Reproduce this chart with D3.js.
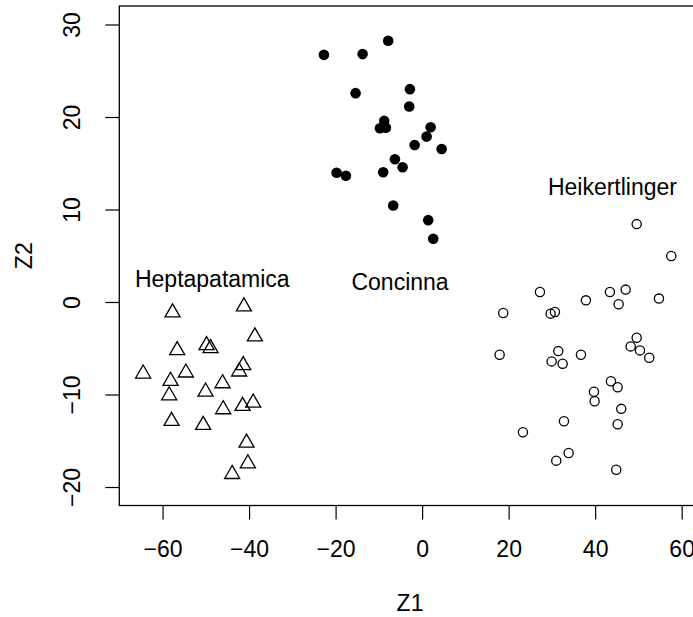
<html>
<head>
  <meta charset="utf-8">
  <title>Z1 vs Z2</title>
  <style>
    body { margin: 0; padding: 0; background: white; }
    text { font-family: "Liberation Sans", Arial, Helvetica, sans-serif; fill: black; }
  </style>
</head>
<body>
  <div id="chart"></div>
  <script src="https://d3js.org/d3.v7.min.js"></script>
  <script>
    // group points (Z1, Z2)
    var concinnaX = [-7.84, -22.7, -13.76, -15.38, -2.82, -2.98, -8.76, -9.76, -8.37, 1.97, 1.04,
      -1.73, 4.51, -6.29, -4.51, -8.99, -19.77, -17.62, -6.68, 1.41, 2.57];
    var concinnaY = [28.24, 26.72, 26.8, 22.58, 23.01, 21.13, 19.58, 18.79, 18.85, 18.89, 17.88,
      16.98, 16.54, 15.43, 14.56, 14.02, 13.98, 13.65, 10.44, 8.85, 6.83];

    var heikX = [49.6, 57.6, 27.24, 43.42, 47.05, 37.87, 45.43, 54.75, 18.75, 29.71, 30.71, 49.6,
      48.21, 50.36, 52.51, 31.47, 29.94, 32.49, 36.72, 17.92, 43.65, 45.2, 39.72, 39.88, 46.03,
      45.2, 32.79, 23.31, 33.87, 31.01, 44.88];
    var heikY = [8.42, 4.98, 1.08, 1.08, 1.34, 0.18, -0.25, 0.37, -1.19, -1.26, -1.08, -3.86,
      -4.8, -5.23, -6.02, -5.31, -6.42, -6.67, -5.7, -5.7, -8.56, -9.21, -9.71, -10.73, -11.55,
      -13.22, -12.89, -14.08, -16.32, -17.15, -18.13];

    var heptaX = [-57.69, -41.2, -38.66, -56.62, -49.83, -48.9, -64.49, -54.61, -41.36, -42.29,
      -58.15, -58.47, -50.06, -46.13, -39.05, -41.5, -45.99, -57.92, -50.61, -40.58, -40.28, -43.91];
    var heptaY = [-1.14, -0.49, -3.74, -5.22, -4.68, -5.01, -7.75, -7.64, -6.85, -7.53,
      -8.54, -10.1, -9.7, -8.8, -10.89, -11.25, -11.61, -12.87, -13.3, -15.22, -17.46, -18.61];

    var labelNames = ["Heptapatamica", "Concinna", "Heikertlinger"];
    var labelX = [-48.5, -5.1, 44.0];
    var labelY = [2.45, 2.2, 12.45];

    var xTicks = [-60, -40, -20, 0, 20, 40, 60];
    var yTicks = [-20, -10, 0, 10, 20, 30];

    var width = 693, height = 617;
    // plot box (right edge falls just outside the picture)
    var boxLeft = 119.3, boxRight = 700.7, boxTop = 6, boxBottom = 505.5;
    var fontSize = 23;

    var svg = d3.select("#chart").append("svg")
      .attr("width", width)
      .attr("height", height);

    var x = d3.scaleLinear().domain([-70.0, 64.4]).range([boxLeft, boxRight]);
    var y = d3.scaleLinear().domain([-22.0, 32.0]).range([boxBottom, boxTop]);

    // x axis
    var gx = svg.append("g")
      .attr("transform", "translate(0," + boxBottom + ")")
      .call(d3.axisBottom(x).tickValues(xTicks).tickSize(14).tickSizeOuter(0));
    gx.select(".domain").remove();
    gx.selectAll("line").attr("stroke", "black").attr("stroke-width", 1.2);
    gx.selectAll("text")
      .attr("y", 51).attr("dy", 0)
      .style("font-size", fontSize + "px")
      .attr("font-family", null);

    // y axis, labels turned like base R
    var gy = svg.append("g")
      .attr("transform", "translate(" + boxLeft + ",0)")
      .call(d3.axisLeft(y).tickValues(yTicks).tickSize(14).tickSizeOuter(0));
    gy.select(".domain").remove();
    gy.selectAll("line").attr("stroke", "black").attr("stroke-width", 1.2);
    gy.selectAll("text")
      .attr("x", 0).attr("dy", 0)
      .attr("transform", "translate(-39.5,0) rotate(-90)")
      .attr("text-anchor", "middle")
      .style("font-size", fontSize + "px")
      .attr("font-family", null);

    // box
    svg.append("rect")
      .attr("x", boxLeft).attr("y", boxTop)
      .attr("width", boxRight - boxLeft).attr("height", boxBottom - boxTop)
      .attr("fill", "none").attr("stroke", "black").attr("stroke-width", 1.3);

    var plot = svg.append("g");

    // Concinna, solid dots
    plot.selectAll(".conc")
      .data(d3.range(concinnaX.length))
      .enter().append("circle")
      .attr("cx", function(i) { return x(concinnaX[i]); })
      .attr("cy", function(i) { return y(concinnaY[i]); })
      .attr("r", 5.3)
      .attr("fill", "black");

    // Heikertlinger, open circles
    plot.selectAll(".heik")
      .data(d3.range(heikX.length))
      .enter().append("circle")
      .attr("cx", function(i) { return x(heikX[i]); })
      .attr("cy", function(i) { return y(heikY[i]); })
      .attr("r", 4.6)
      .attr("fill", "none")
      .attr("stroke", "black")
      .attr("stroke-width", 1.3);

    // Heptapatamica, open triangles (pch 2 shape)
    var s = 5.6;
    var tri = "M0," + (-1.5551 * s) + "L" + (1.3468 * s) + "," + (0.7776 * s) +
      "L" + (-1.3468 * s) + "," + (0.7776 * s) + "Z";
    plot.selectAll(".hept")
      .data(d3.range(heptaX.length))
      .enter().append("path")
      .attr("d", tri)
      .attr("transform", function(i) {
        return "translate(" + x(heptaX[i]) + "," + y(heptaY[i]) + ")";
      })
      .attr("fill", "none")
      .attr("stroke", "black")
      .attr("stroke-width", 1.3);

    // group names
    svg.selectAll(".lab")
      .data(labelNames)
      .enter().append("text")
      .attr("x", function(d, i) { return x(labelX[i]); })
      .attr("y", function(d, i) { return y(labelY[i]) + 8; })
      .attr("text-anchor", "middle")
      .style("font-size", fontSize + "px")
      .text(function(d) { return d; });

    // axis titles
    svg.append("text")
      .attr("x", (boxLeft + boxRight) / 2).attr("y", 611)
      .attr("text-anchor", "middle")
      .style("font-size", fontSize + "px")
      .text("Z1");
    svg.append("text")
      .attr("transform", "translate(31.5," + (boxTop + boxBottom) / 2 + ") rotate(-90)")
      .attr("text-anchor", "middle")
      .style("font-size", fontSize + "px")
      .text("Z2");
  </script>
</body>
</html>
